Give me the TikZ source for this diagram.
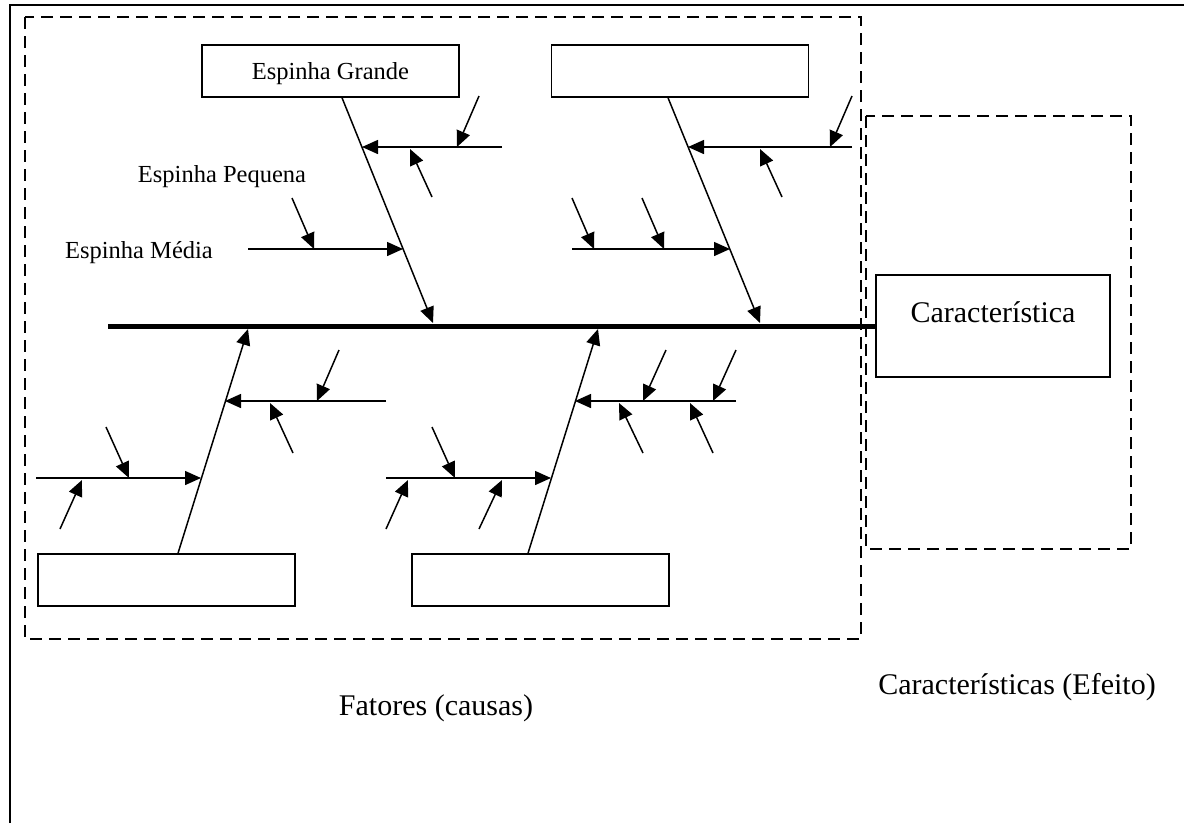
\documentclass[tikz,border=0pt]{standalone}
\usepackage{fontspec}
\setmainfont{Liberation Serif}
\usetikzlibrary{calc, arrows.meta}

\tikzstyle{box}   = [rectangle, draw=black, line width=1.5pt, minimum width=257pt, minimum height=52pt, inner sep=0pt, text height=17pt, text depth=0pt, font=\fontsize{24.5}{26}\selectfont]
\tikzstyle{efeito} = [rectangle, draw=black, line width=1.5pt, minimum width=234pt, minimum height=102pt, inner sep=0pt, text height=22pt, text depth=30pt, font=\fontsize{30}{32}\selectfont]
\tikzstyle{lbl}   = [inner sep=0pt, anchor=base, font=\fontsize{24.5}{26}\selectfont]
\tikzstyle{big}   = [inner sep=0pt, anchor=base, font=\fontsize{30}{32}\selectfont]
\tikzstyle{area}  = [draw=black, line width=1.5pt, dash pattern=on 12pt off 7pt]
\tikzstyle{spine} = [line width=5pt]
\tikzstyle{arrow} = [line width=1.5pt, -{Triangle[length=16pt, width=14pt]}]

\begin{document}
\begin{tikzpicture}[x=1pt, y=-1pt]
      \useasboundingbox (0,0) rectangle (1184,823);

      % frame and areas
      \draw [line width=1.5pt] (10,823) -- (10,5) -- (1184,5);
      \draw [area] (25,17) rectangle (861,639);
      \draw [area] (866,116) rectangle (1131,549);

      \node (gB1) [box] at (330.5,71)  {Espinha Grande};
      \node (gB2) [box] at (680,71)    {};
      \node (gB3) [box] at (166.5,580) {};
      \node (gB4) [box] at (540.5,580) {};
      \node (carac) [efeito] at (993,326) {Característica};

      \node (pequena) [lbl] at (222,182) {Espinha Pequena};
      \node (media)   [lbl] at (139,258) {Espinha Média};
      \node (fatores) [big] at (436,715) {Fatores (causas)};
      \node (efeitos) [big] at (1017,694) {Características (Efeito)};

      % spine
      \coordinate (sp) at (108,326);
      \draw [spine] (sp) -- (carac.west);

      % big bones
      \coordinate (b1) at (433,323);
      \coordinate (b2) at (760,323);
      \coordinate (b3) at (248,329);
      \coordinate (b4) at (598,329);
      \draw [arrow] ([xshift=11.5pt]gB1.south) -- (b1);
      \draw [arrow] ([xshift=-12pt]gB2.south) -- (b2);
      \draw [arrow] ([xshift=11.5pt]gB3.north) -- (b3);
      \draw [arrow] ([xshift=-12.5pt]gB4.north) -- (b4);

      % medium bones
      \coordinate (m1a) at (502,147);  \coordinate (m1b) at (362,147);
      \coordinate (m2a) at (248,249);  \coordinate (m2b) at (403,249);
      \coordinate (m3a) at (852,147);  \coordinate (m3b) at (688,147);
      \coordinate (m4a) at (572,249);  \coordinate (m4b) at (730,249);
      \coordinate (m5a) at (386,401);  \coordinate (m5b) at (225,401);
      \coordinate (m6a) at (36,478);   \coordinate (m6b) at (201,478);
      \coordinate (m7a) at (736,401);  \coordinate (m7b) at (575,401);
      \coordinate (m8a) at (386,478);  \coordinate (m8b) at (551,478);
      \draw [arrow] (m1a) -- (m1b);
      \draw [arrow] (m2a) -- (m2b);
      \draw [arrow] (m3a) -- (m3b);
      \draw [arrow] (m4a) -- (m4b);
      \draw [arrow] (m5a) -- (m5b);
      \draw [arrow] (m6a) -- (m6b);
      \draw [arrow] (m7a) -- (m7b);
      \draw [arrow] (m8a) -- (m8b);

      % small bones
      \coordinate (s1)  at (457,147);
      \coordinate (s2)  at (410,149);
      \coordinate (s3)  at (314,249);
      \coordinate (s4)  at (830,147);
      \coordinate (s5)  at (760,149);
      \coordinate (s6)  at (594,249);
      \coordinate (s7)  at (664,249);
      \coordinate (s8)  at (317,401);
      \coordinate (s9)  at (270,403);
      \coordinate (s10) at (129,478);
      \coordinate (s11) at (82,480);
      \coordinate (s12) at (643,401);
      \coordinate (s13) at (713,401);
      \coordinate (s14) at (619,403);
      \coordinate (s15) at (690,403);
      \coordinate (s16) at (455,478);
      \coordinate (s17) at (408,480);
      \coordinate (s18) at (502,480);
      \draw [arrow] ($(s1)+(22,-51)$) -- (s1);
      \draw [arrow] ($(s2)+(22,48)$) -- (s2);
      \draw [arrow] ($(s3)+(-22,-51)$) -- (s3);
      \draw [arrow] ($(s4)+(22,-51)$) -- (s4);
      \draw [arrow] ($(s5)+(22,48)$) -- (s5);
      \draw [arrow] ($(s6)+(-22,-51)$) -- (s6);
      \draw [arrow] ($(s7)+(-22,-51)$) -- (s7);
      \draw [arrow] ($(s8)+(22,-51)$) -- (s8);
      \draw [arrow] ($(s9)+(23,50)$) -- (s9);
      \draw [arrow] ($(s10)+(-23,-51)$) -- (s10);
      \draw [arrow] ($(s11)+(-22,49)$) -- (s11);
      \draw [arrow] ($(s12)+(23,-51)$) -- (s12);
      \draw [arrow] ($(s13)+(23,-51)$) -- (s13);
      \draw [arrow] ($(s14)+(24,50)$) -- (s14);
      \draw [arrow] ($(s15)+(23,50)$) -- (s15);
      \draw [arrow] ($(s16)+(-23,-51)$) -- (s16);
      \draw [arrow] ($(s17)+(-22,49)$) -- (s17);
      \draw [arrow] ($(s18)+(-23,49)$) -- (s18);
    \end{tikzpicture}
\end{document}
